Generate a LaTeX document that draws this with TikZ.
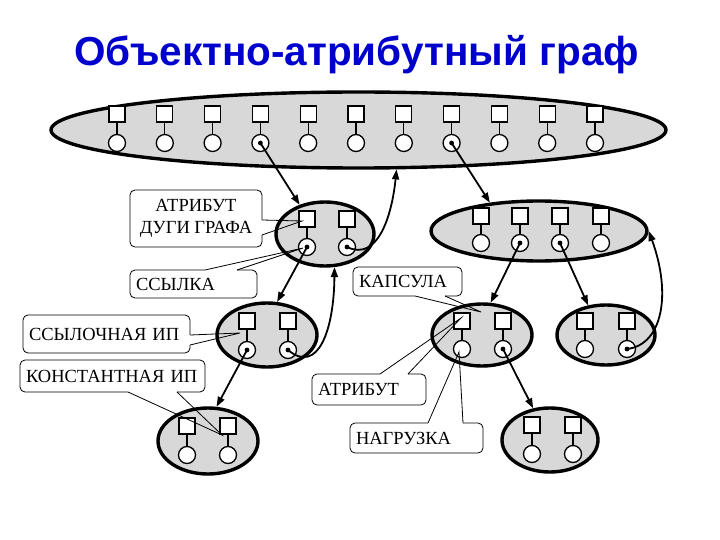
\documentclass[tikz,border=0pt]{standalone}
\usepackage{fontspec}
\setmainfont{Liberation Serif}
\newfontfamily\titlefont{Liberation Sans}
\usetikzlibrary{shapes.geometric,arrows.meta}
\definecolor{capfill}{RGB}{216,216,216}
\definecolor{titleblue}{RGB}{0,0,204}
\tikzset{
 caps/.style={ellipse, draw, fill=capfill, line width=3.4pt, inner sep=0pt},
 sq/.style={rectangle, draw, fill=white, line width=1.3pt, minimum size=16pt, inner sep=0pt},
 cir/.style={circle, draw, fill=white, line width=1.3pt, minimum size=17pt, inner sep=0pt},
 stem/.style={line width=1.3pt},
 link/.style={line width=1.8pt, -{Triangle[length=10pt,width=7pt]}},
 callout/.style={draw, fill=white, rounded corners=5pt, line width=0.8pt, font=\fontsize{18.5}{21.5}\selectfont, inner xsep=6pt, inner ysep=2pt},
 wedge/.style={line width=0.8pt},
 gapcover/.style={white, line width=1.8pt},
}
\newcommand{\attrpair}[4]{%
  \node[sq] (#1s) at (#2,#3) {};
  \node[cir] (#1c) at (#2,#4) {};
  \draw[stem] (#1s) -- (#1c);
}
\newcommand{\refdot}[1]{\fill (#1.center) circle (2.4pt);}
\begin{document}
\begin{tikzpicture}[x=1pt,y=-1pt]
\useasboundingbox (0,0) rectangle (720,540);
% title
\node[font=\titlefont\bfseries\fontsize{40.5}{48}\selectfont, text=titleblue, anchor=base] (title) at (356.5,66) {Объектно-атрибутный граф};
% capsules
\node[caps, minimum width=615pt, minimum height=76pt] (T) at (358.5,130) {};
\node[caps, minimum width=98pt, minimum height=64pt] (L) at (325,234) {};
\node[caps, minimum width=216pt, minimum height=60pt] (R) at (539,231) {};
\node[caps, minimum width=100pt, minimum height=64pt] (A) at (267,335) {};
\node[caps, minimum width=100pt, minimum height=62pt] (B) at (482,335) {};
\node[caps, minimum width=98pt, minimum height=60pt] (C) at (606,335) {};
\node[caps, minimum width=100pt, minimum height=66pt] (D) at (208,441) {};
\node[caps, minimum width=96pt, minimum height=64pt] (E) at (550,440) {};
% attribute pairs
\foreach \i in {1,...,11}{
  \pgfmathsetmacro\xx{117+47.8*(\i-1)}
  \attrpair{T\i}{\xx}{114}{143}
}
\attrpair{L1}{307}{219}{247}
\attrpair{L2}{347}{219}{247}
\attrpair{R1}{481}{216}{243}
\attrpair{R2}{520}{216}{243}
\attrpair{R3}{560}{216}{243}
\attrpair{R4}{601}{216}{243}
\attrpair{A1}{247}{321}{350}
\attrpair{A2}{288}{321}{350}
\attrpair{B1}{462}{321}{349}
\attrpair{B2}{503}{321}{349}
\attrpair{C1}{585}{321}{349}
\attrpair{C2}{627}{321}{349}
\attrpair{D1}{187}{426}{455}
\attrpair{D2}{228}{426}{455}
\attrpair{E1}{532}{425}{454}
\attrpair{E2}{573}{425}{454}
% reference dots
\refdot{T4c}\refdot{T8c}\refdot{L1c}\refdot{L2c}\refdot{R2c}\refdot{R3c}
\refdot{A1c}\refdot{A2c}\refdot{B2c}\refdot{C2c}
% links
\draw[link] (T4c.center) -- (L.131);
\draw[link] (T8c.center) -- (R.150);
\draw[link] (L2c.center) .. controls (378,262) and (392,215) .. (T.-46);
\draw[link] (L1c.center) -- (A.73);
\draw[link] (A2c.center) .. controls (318,375) and (334,330) .. (L.-74);
\draw[link] (A1c.center) -- (D.76);
\draw[link] (R2c.center) -- (B.75);
\draw[link] (R3c.center) -- (C.121);
\draw[link] (C2c.center) .. controls (662,345) and (672,295) .. (R.east);
\draw[link] (B2c.center) -- (E.118);
% callouts
\node[callout, minimum width=132pt, minimum height=57pt, align=center] (k1) at (196,218.5) {АТРИБУТ\\ДУГИ ГРАФА};
\node[callout, minimum height=28pt, text width=115pt, align=left] (k2) at (193.5,284) {ССЫЛКА};
\node[callout, minimum height=29pt, text width=97pt, align=left] (k3) at (407.5,281.5) {КАПСУЛА};
\node[callout, minimum height=38pt, text width=155pt, align=left] (k4) at (106.5,334) {ССЫЛОЧНАЯ ИП};
\node[callout, minimum height=32pt, text width=173pt, align=left] (k5) at (112.5,376) {КОНСТАНТНАЯ ИП};
\node[callout, minimum height=31pt, text width=102pt, align=left] (k6) at (369,389.5) {АТРИБУТ};
\node[callout, minimum height=30pt, text width=121pt, align=left] (k7) at (416.5,438) {НАГРУЗКА};
% wedge points
\coordinate (w1a) at (262,220); \coordinate (w1b) at (262,235); \coordinate (w1t) at (302,221);
\coordinate (w2a) at (205,270); \coordinate (w2b) at (237,270); \coordinate (w2t) at (303,248);
\coordinate (w3a) at (415,296); \coordinate (w3b) at (445,296); \coordinate (w3t) at (481,312);
\coordinate (w4a) at (190,335); \coordinate (w4b) at (190,345); \coordinate (w4t) at (240,333);
\coordinate (w5a) at (128,392); \coordinate (w5b) at (177,392); \coordinate (w5t) at (222,435);
\coordinate (w6a) at (380,374); \coordinate (w6b) at (408,374); \coordinate (w6t) at (461,318);
\coordinate (w7a) at (428,423); \coordinate (w7b) at (463,423); \coordinate (w7t) at (459,352);
\foreach \k in {1,...,7}{
  \draw[gapcover] (w\k a) -- (w\k b);
  \draw[wedge] (w\k a) -- (w\k t) -- (w\k b);
}
\end{tikzpicture}
\end{document}
